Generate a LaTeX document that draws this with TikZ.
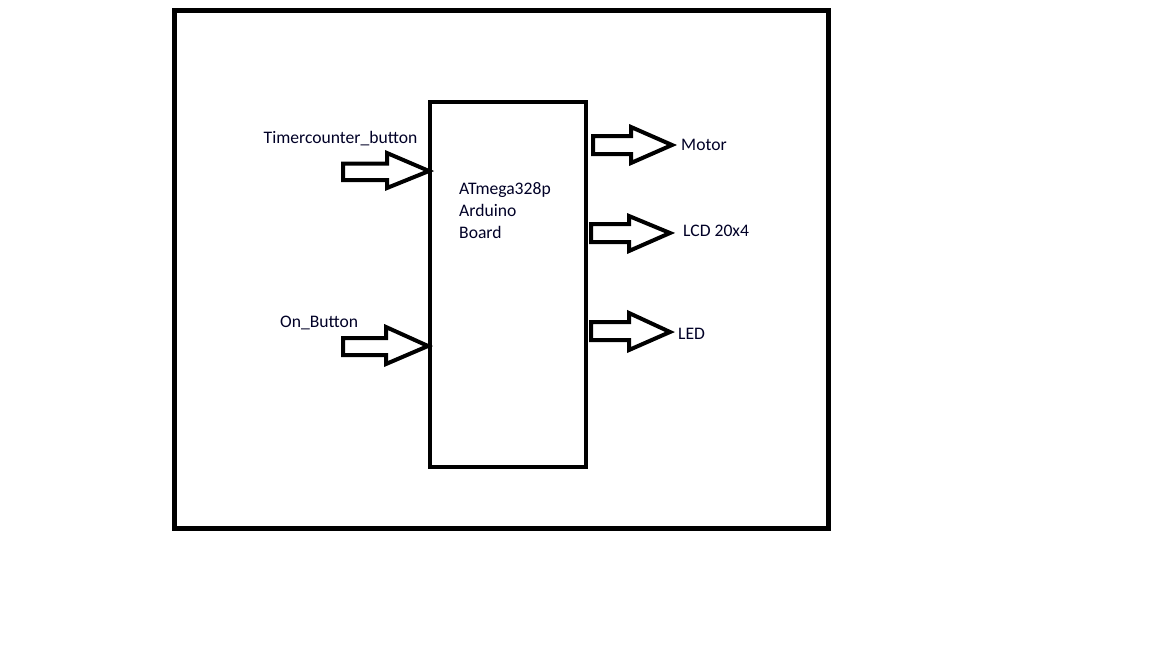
\documentclass[tikz,border=0pt]{standalone}
\usepackage{fontspec}
\setmainfont{Carlito}
\begin{document}
\begin{tikzpicture}[x=1pt,y=-1pt,
  frame/.style={draw=black,line width=5pt},
  board/.style={draw=black,line width=4pt},
  blockarrow/.style={draw=black,line width=4pt,fill=white,line join=miter},
  lbl/.style={font=\fontsize{17.6}{22}\selectfont,inner sep=0pt,text=black!85!blue}]
\useasboundingbox (0,0) rectangle (1152,648);
\draw[frame] (174.5,10.5) rectangle (828,528.5);
\node[board,minimum width=155.5pt,minimum height=364.5pt,anchor=north west,inner sep=0pt,outer sep=0pt] (mcu) at (430,102) {};
\node[lbl,anchor=base west,align=left,font=\fontsize{17.6}{22}\selectfont] (mcutxt) at (459,238) {ATmega328p\\Arduino\\Board};
% input arrows
\draw[blockarrow] (343,163.5) -- (387,163.5) -- (387,153) -- (429,171) -- (387,188) -- (387,180) -- (343,180) -- cycle;
\draw[blockarrow] (343,338) -- (386,338) -- (386,327) -- (428,346) -- (386,364) -- (386,355) -- (343,355) -- cycle;
% output arrows
\draw[blockarrow] (593,136) -- (631,136) -- (631,127) -- (672,145) -- (631,163) -- (631,154) -- (593,154) -- cycle;
\draw[blockarrow] (591,224) -- (629,224) -- (629,216) -- (670,233) -- (629,251) -- (629,242) -- (591,242) -- cycle;
\draw[blockarrow] (591,322) -- (629,322) -- (629,313) -- (670,332) -- (629,350) -- (629,340) -- (591,340) -- cycle;
\node[lbl,anchor=base] (tc) at (340.5,143.5) {Timercounter\_button};
\node[lbl,anchor=base west] (on) at (280,327.5) {On\_Button};
\node[lbl,anchor=base west] (motor) at (681,150.5) {Motor};
\node[lbl,anchor=base west] (lcd) at (683,236.5) {LCD 20x4};
\node[lbl,anchor=base west] (led) at (678,339.5) {LED};
\end{tikzpicture}
\end{document}
